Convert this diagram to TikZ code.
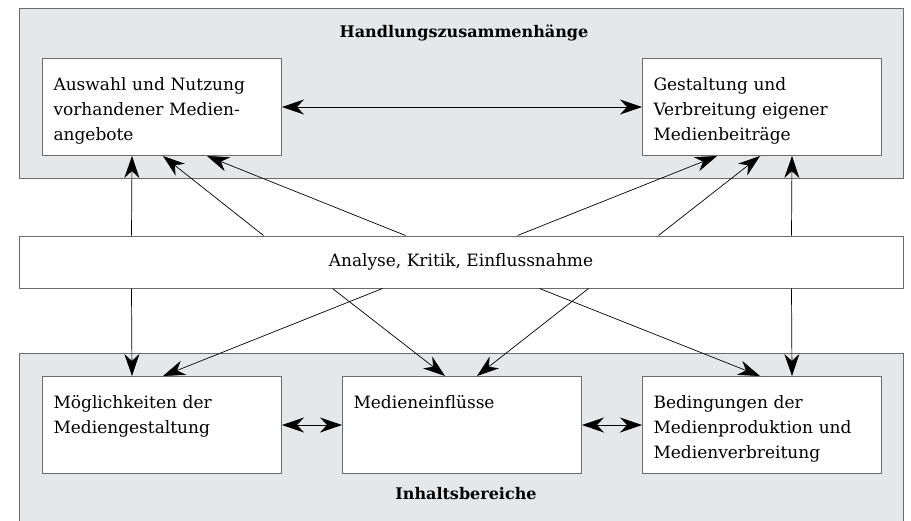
\documentclass[tikz,border=0pt]{standalone}
\usepackage{fontspec}
\setmainfont{DejaVu Serif}
\usetikzlibrary{arrows.meta}
\usetikzlibrary{positioning}
\definecolor{areagray}{rgb}{0.9, 0.906, 0.914}
\definecolor{framegray}{rgb}{0.42, 0.42, 0.42}
\tikzset{area/.style = {fill=areagray, draw=framegray, line width=1pt}}
\tikzset{topic/.style = {draw=framegray, fill=white, line width=1pt,
                         anchor=north west, align=left, text width=217pt,
                         inner xsep=11pt, inner ysep=0pt,
                         text height=32pt, text depth=65pt}}
\tikzset{band/.style = {draw=framegray, fill=white, line width=1pt,
                        minimum width=884pt, minimum height=52pt}}
\tikzset{headline/.style = {font=\fontsize{16}{25}\selectfont\bfseries, anchor=base}}
\tikzset{arr/.style = {-{Stealth[length=22pt, width=15pt, inset=7pt]}, line width=0.7pt}}
\tikzset{both/.style = {{Stealth[length=22pt, width=15pt, inset=7pt]}-{Stealth[length=22pt, width=15pt, inset=7pt]},
                        line width=0.7pt}}

\begin{document}
\begin{tikzpicture}[x=1pt, y=-1pt, font=\fontsize{17}{25}\selectfont]
    \useasboundingbox (0,0) rectangle (911,520);
    % Rahmen oben und unten
    \draw [area] (19,8) rectangle (903,178);
    \draw [area] (19,353) rectangle (903,530);
    \node [headline] (handlung) at (464,37) {Handlungszusammenh\"ange};
    \node [headline] (inhalt) at (466,499) {Inhaltsbereiche};

    \node [topic] (auswahl) at (42,58) {Auswahl und Nutzung\\vorhandener Medien-\\angebote};
    \node [topic] (gestalt) at (642,58) {Gestaltung und\\Verbreitung eigener\\Medienbeitr\"age};
    \node [band] (analyse) at (461,262) {Analyse, Kritik, Einflussnahme};
    \node [topic] (moegl) at (42,376) {M\"oglichkeiten der\\Mediengestaltung};
    \node [topic] (einfl) at (342,376) {Medieneinfl\"usse};
    \node [topic] (beding) at (642,376) {Bedingungen der\\Medienproduktion und\\Medienverbreitung};

    \draw [both] (auswahl) -- (gestalt);
    \draw [both] (moegl) -- (einfl);
    \draw [both] (einfl) -- (beding);

    \foreach \s/\goal/\t in {113/auswahl/90, 245/auswahl/121, 387/auswahl/165,
                             499/gestalt/75, 640/gestalt/118, 773/gestalt/150} {
      \draw [arr] ([xshift=\s pt]analyse.north west) -- ([xshift=\t pt]\goal.south west);
    }
    \foreach \s/\goal/\t in {113/moegl/90, 364/moegl/121, 314/einfl/103,
                             570/einfl/135, 521/beding/118, 773/beding/150} {
      \draw [arr] ([xshift=\s pt]analyse.south west) -- ([xshift=\t pt]\goal.north west);
    }
  \end{tikzpicture}
\end{document}
